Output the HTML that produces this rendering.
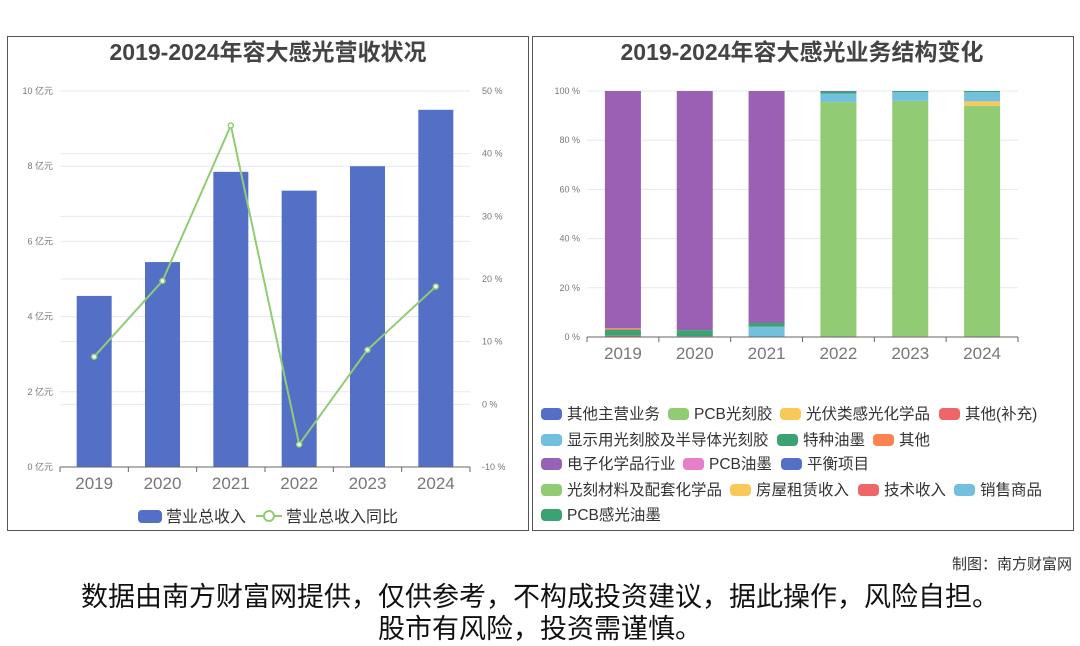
<!DOCTYPE html>
<html><head><meta charset="utf-8">
<style>
body{margin:0;width:1080px;height:646px;background:#fff;font-family:"Liberation Sans","Noto Sans CJK SC",sans-serif;position:relative;overflow:hidden}
.panel{position:absolute;border:1px solid #555;background:#fff}
.lg{position:absolute;font-size:15.5px;color:#333;white-space:nowrap;line-height:18px}
.lg i{display:inline-block;width:21px;height:12px;border-radius:4px;vertical-align:-1px;margin-right:5px}
.foot{position:absolute;width:1080px;text-align:center;font-size:27px;color:#111;line-height:30px}
</style></head><body>
<div class="panel" style="left:7px;top:36px;width:520px;height:493px"></div>
<div class="panel" style="left:532px;top:36px;width:540px;height:493px"></div>
<svg id="s" width="1080" height="646" style="position:absolute;left:0;top:0"></svg>
<div id="legend"></div>
<div style="position:absolute;right:8px;top:553px;font-size:15px;color:#333">制图：南方财富网</div>
<div class="foot" style="top:582px">数据由南方财富网提供，仅供参考，不构成投资建议，据此操作，风险自担。</div>
<div class="foot" style="top:614px">股市有风险，投资需谨慎。</div>
<script>
const years=['2019','2020','2021','2022','2023','2024'];
const revenue=[4.55,5.45,7.85,7.35,8.0,9.5];
const growth=[7.6,19.7,44.5,-6.4,8.7,18.8];
const leftTicks=[0,2,4,6,8,10];
const rightTicks=[-10,0,10,20,30,40,50];
const segColors=['#ee6666','#91cc75','#fac858','#73c0de','#3ba272','#fc8452','#9a60b4'];
const segOther=[0.5,0.3,0.2,0,0.3,0];
const segPCB=[0,0,0,95.5,95.7,94];
const segPV=[0,0,0,0,0,1.8];
const segDisplay=[0,0,4,3.5,3.5,3.7];
const segInk=[2.5,2.5,1.5,0.8,0.5,0.5];
const segMisc=[0.6,0,0,0,0,0];
const segElec=[96.4,97.2,94.3,0.2,0,0];
const pctTicks=[0,20,40,60,80,100];
const legendItems=[['其他主营业务','#5470c6',541,415],['PCB光刻胶','#91cc75',668,415],['光伏类感光化学品','#fac858',780,415],['其他(补充)','#ee6666',939,415],
['显示用光刻胶及半导体光刻胶','#73c0de',541,441],['特种油墨','#3ba272',777,441],['其他','#fc8452',873,441],
['电子化学品行业','#9a60b4',541,465],['PCB油墨','#ea7ccc',683,465],['平衡项目','#5470c6',781,465],
['光刻材料及配套化学品','#91cc75',541,491],['房屋租赁收入','#fac858',730,491],['技术收入','#ee6666',858,491],['销售商品','#73c0de',954,491],
['PCB感光油墨','#3ba272',541,516]];
const NS='http://www.w3.org/2000/svg',svg=document.getElementById('s');
function el(t,a,txt){const e=document.createElementNS(NS,t);for(const k in a)e.setAttribute(k,a[k]);if(txt!==undefined)e.textContent=txt;svg.appendChild(e);return e;}
const L={x0:60,x1:470,y0:467,y1:91};
const yL=v=>L.y0-(v/10)*(L.y0-L.y1);
const yR=v=>L.y0-((v+10)/60)*(L.y0-L.y1);
const band=(L.x1-L.x0)/years.length;
const xL=i=>L.x0+band*(i+0.5);
let t=el('text',{x:268,y:60,'text-anchor':'middle','font-size':23,'font-weight':'bold',fill:'#444'},'2019-2024年容大感光营收状况');

rightTicks.forEach(v=>{el('line',{x1:L.x0,x2:L.x1,y1:yR(v),y2:yR(v),stroke:'#e6e8f2'});
 const e=el('text',{x:482,y:yR(v)+3,'font-size':9,fill:'#777'},v+' %');});
leftTicks.forEach(v=>{el('line',{x1:L.x0,x2:L.x1,y1:yL(v),y2:yL(v),stroke:'#e6e8f2'});
 const e=el('text',{x:53,y:yL(v)+3,'text-anchor':'end','font-size':9,fill:'#777'},v+' 亿元');});
revenue.forEach((v,i)=>{const r=el('rect',{x:xL(i)-17.5,y:yL(v),width:35,height:yL(0)-yL(v),fill:'#5470c6'});
 });
el('line',{x1:L.x0,x2:L.x1,y1:L.y0,y2:L.y0,stroke:'#666'});
years.forEach((y,i)=>{el('line',{x1:L.x0+band*i,x2:L.x0+band*i,y1:L.y0,y2:L.y0+5,stroke:'#666'});
 const e=el('text',{x:xL(i),y:489,'text-anchor':'middle','font-size':17,fill:'#777'},y);});
el('line',{x1:L.x1,x2:L.x1,y1:L.y0,y2:L.y0+5,stroke:'#666'});
const pl=el('polyline',{points:growth.map((g,i)=>xL(i)+','+yR(g)).join(' '),fill:'none',stroke:'#91cc75','stroke-width':2});

growth.forEach((g,i)=>{const c=el('circle',{cx:xL(i),cy:yR(g),r:2.5,fill:'#fff',stroke:'#91cc75','stroke-width':1.5});});
let lr=el('rect',{x:138,y:510,width:24,height:13,rx:4,fill:'#5470c6'});
el('text',{x:166,y:522,'font-size':16,fill:'#333'},'营业总收入');
el('line',{x1:256,x2:282,y1:516,y2:516,stroke:'#91cc75','stroke-width':2});
el('circle',{cx:269,cy:516,r:5,fill:'#fff',stroke:'#91cc75','stroke-width':2});
el('text',{x:286,y:522,'font-size':16,fill:'#333'},'营业总收入同比');
const R={x0:587,x1:1018,y0:337,y1:91};
const yP=v=>R.y0-(v/100)*(R.y0-R.y1);
const bandR=(R.x1-R.x0)/years.length;
const xR=i=>R.x0+bandR*(i+0.5);
t=el('text',{x:802,y:60,'text-anchor':'middle','font-size':23,'font-weight':'bold',fill:'#444'},'2019-2024年容大感光业务结构变化');

pctTicks.forEach(v=>{el('line',{x1:R.x0,x2:R.x1,y1:yP(v),y2:yP(v),stroke:'#e6e8f2'});
 const e=el('text',{x:580,y:yP(v)+3,'text-anchor':'end','font-size':9,fill:'#777'},v+' %');});
const segs=[segOther,segPCB,segPV,segDisplay,segInk,segMisc,segElec];
years.forEach((y,i)=>{let acc=0;segs.forEach((s,k)=>{const v=s[i];if(v<=0)return;
 const r=el('rect',{x:xR(i)-18,y:yP(acc+v),width:36,height:yP(acc)-yP(acc+v),fill:segColors[k]});
 acc+=v;});});
el('line',{x1:R.x0,x2:R.x1,y1:R.y0,y2:R.y0,stroke:'#666'});
years.forEach((y,i)=>{el('line',{x1:R.x0+bandR*i,x2:R.x0+bandR*i,y1:R.y0,y2:R.y0+5,stroke:'#666'});
 const e=el('text',{x:xR(i),y:359,'text-anchor':'middle','font-size':17,fill:'#777'},y);});
el('line',{x1:R.x1,x2:R.x1,y1:R.y0,y2:R.y0+5,stroke:'#666'});
const lg=document.getElementById('legend');
legendItems.forEach(it=>{const d=document.createElement('div');d.className='lg';d.style.left=it[2]+'px';d.style.top=(it[3]-9)+'px';
 d.innerHTML='<i style="background:'+it[1]+'"></i>'+it[0];
 
 
 lg.appendChild(d);});
</script>
</body></html>
